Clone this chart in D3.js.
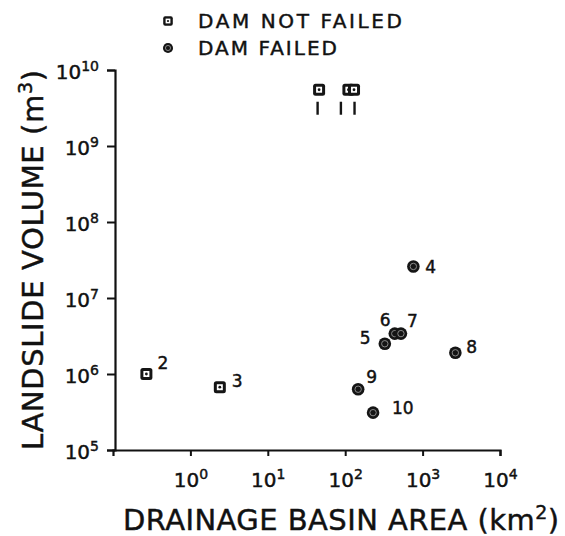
<!DOCTYPE html>
<html>
<head>
<meta charset="utf-8">
<script src="https://cdn.jsdelivr.net/npm/d3@7"></script>
<style>
  body { margin: 0; background: #fff; }
  text { font-family: "DejaVu Sans", sans-serif; fill: #111; stroke: #111; stroke-width: 0.45; }
</style>
</head>
<body>
<svg id="chart" width="565" height="536"></svg>
<script>
// dams that did not fail (squares)
const notFailedArea = [46, 110, 130, 0.27, 2.4];
const notFailedVol = [5.5e9, 5.5e9, 5.5e9, 1.0e6, 6.7e5];
const notFailedLabel = ["", "", "", "2", "3"];

// dams that failed (circles)
const failedArea = [760, 325, 437, 525, 2650, 147, 229];
const failedVol = [2.6e7, 2.5e6, 3.4e6, 3.4e6, 1.9e6, 6.3e5, 3.1e5];
const failedLabel = ["4", "5", "6", "7", "8", "9", "10"];

const xTicks = [0, 1, 2, 3, 4];
const yTicks = [5, 6, 7, 8, 9, 10];

const svg = d3.select("#chart");

let x = d3.scaleLog().domain([0.1, 1e4]).range([113, 500]);
let y = d3.scaleLog().domain([1e5, 1e10]).range([450, 70]);

// axes
let xAxis = svg.append("g")
    .attr("transform", "translate(0,450)")
    .call(d3.axisBottom(x).tickValues(xTicks.map(e => Math.pow(10, e))).tickSize(6).tickFormat(""));
let yAxis = svg.append("g")
    .attr("transform", "translate(115,0)")
    .call(d3.axisLeft(y).tickValues(yTicks.map(e => Math.pow(10, e))).tickSize(8).tickFormat(""));

[xAxis, yAxis].forEach(a => {
    a.select(".domain").attr("stroke", "#111").attr("stroke-width", 2.2);
    a.selectAll(".tick line").attr("stroke", "#111").attr("stroke-width", 2);
});

// x tick labels
xAxis.selectAll(".tick").each(function(d, i) {
    let t = d3.select(this).append("text")
        .attr("y", 37)
        .attr("text-anchor", "middle")
        .attr("font-size", 20)
        .attr("fill", "#111");
    t.append("tspan").text("10");
    t.append("tspan").attr("dy", -8).attr("font-size", 14).text(xTicks[i]);
});

// y tick labels
yAxis.selectAll(".tick").each(function(d, i) {
    let t = d3.select(this).append("text")
        .attr("x", -16)
        .attr("y", 8)
        .attr("text-anchor", "end")
        .attr("font-size", 20)
        .attr("fill", "#111");
    t.append("tspan").text("10");
    t.append("tspan").attr("dy", -8).attr("font-size", 14).text(yTicks[i]);
});

// axis titles
let xt = svg.append("text")
    .attr("x", 123).attr("y", 530)
    .attr("font-size", 29)
    .attr("textLength", 436)
    .attr("lengthAdjust", "spacing");
xt.append("tspan").text("DRAINAGE BASIN AREA (km");
xt.append("tspan").attr("dy", -11).attr("font-size", 19).text("2");
xt.append("tspan").attr("dy", 11).text(")");

let yt = svg.append("text")
    .attr("transform", "translate(43,450) rotate(-90)")
    .attr("font-size", 29)
    .attr("textLength", 380)
    .attr("lengthAdjust", "spacing");
yt.append("tspan").text("LANDSLIDE VOLUME (m");
yt.append("tspan").attr("dy", -11).attr("font-size", 19).text("3");
yt.append("tspan").attr("dy", 11).text(")");

// markers
const drawSquare = (g, cx, cy, s = 1) => {
    g.append("rect").attr("x", cx - 6 * s).attr("y", cy - 6 * s).attr("width", 12 * s).attr("height", 12 * s)
        .attr("rx", 2.5 * s).attr("fill", "#151515");
    g.append("rect").attr("x", cx - 3 * s).attr("y", cy - 3 * s).attr("width", 6 * s).attr("height", 6 * s)
        .attr("fill", "#fff");
    g.append("circle").attr("cx", cx).attr("cy", cy).attr("r", 1.4 * s).attr("fill", "#151515");
};
const drawCircle = (g, cx, cy, s = 1) => {
    g.append("circle").attr("cx", cx).attr("cy", cy).attr("r", 6.3 * s).attr("fill", "#151515");
    g.append("circle").attr("cx", cx).attr("cy", cy).attr("r", 3.2 * s).attr("fill", "none")
        .attr("stroke", "#888").attr("stroke-width", 1);
    g.append("circle").attr("cx", cx).attr("cy", cy).attr("r", 1.3 * s).attr("fill", "#151515");
};

let pts = svg.append("g");
notFailedArea.forEach((a, i) => {
    let cx = x(a), cy = y(notFailedVol[i]);
    drawSquare(pts, cx, cy);
});
// vertical bars under the top squares
const barArea = [44, 88, 132];
barArea.forEach(a => {
    pts.append("line").attr("x1", x(a)).attr("x2", x(a))
        .attr("y1", y(5.5e9) + 12).attr("y2", y(5.5e9) + 25)
        .attr("stroke", "#151515").attr("stroke-width", 2.4);
});
failedArea.forEach((a, i) => drawCircle(pts, x(a), y(failedVol[i])));

// point labels
const nfOff = [[0, 0], [0, 0], [0, 0], [11, -5], [12, 0]];
const fOff = [[12, 7], [-25, 0], [-15, -8], [6, -7], [11, 0], [8, -6], [19, 1]];
notFailedLabel.forEach((l, i) => {
    if (!l) return;
    svg.append("text")
        .attr("x", x(notFailedArea[i]) + nfOff[i][0])
        .attr("y", y(notFailedVol[i]) + nfOff[i][1])
        .attr("font-size", 17).text(l);
});
failedLabel.forEach((l, i) => {
    svg.append("text")
        .attr("x", x(failedArea[i]) + fOff[i][0])
        .attr("y", y(failedVol[i]) + fOff[i][1])
        .attr("font-size", 17).text(l);
});

// legend
let lg = svg.append("g");
drawSquare(lg, 168, 21, 0.8);
drawCircle(lg, 168, 48, 0.8);
lg.append("text").attr("x", 198).attr("y", 28).attr("font-size", 20)
    .attr("textLength", 204).attr("lengthAdjust", "spacing").text("DAM NOT FAILED");
lg.append("text").attr("x", 198).attr("y", 55).attr("font-size", 20)
    .attr("textLength", 139).attr("lengthAdjust", "spacing").text("DAM FAILED");
</script>
</body>
</html>
